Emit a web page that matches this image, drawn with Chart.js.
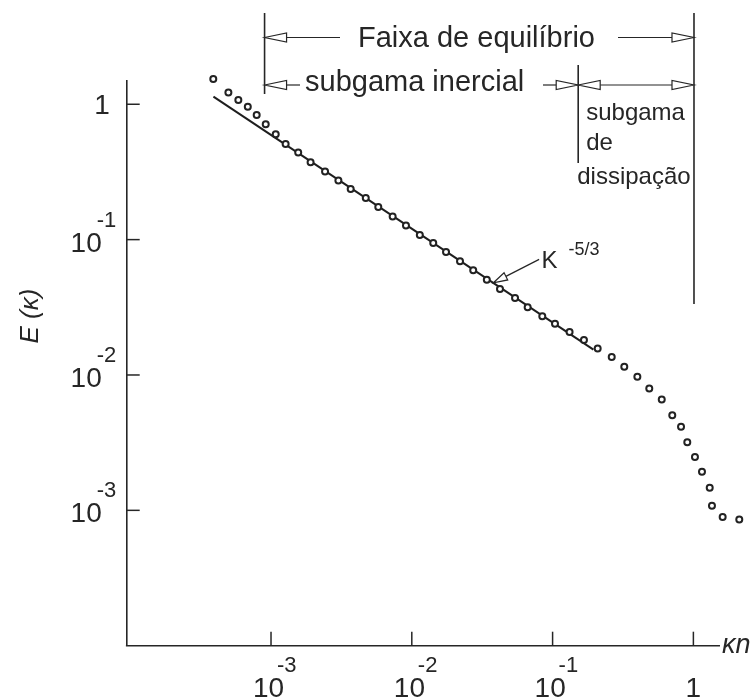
<!DOCTYPE html>
<html>
<head>
<meta charset="utf-8">
<script src="https://cdn.jsdelivr.net/npm/chart.js@4.4.1/dist/chart.umd.min.js"></script>
<style>
  html, body { margin: 0; padding: 0; background: #fff; }
  #wrap { width: 753px; height: 700px; position: relative; }
</style>
</head>
<body>
<div id="wrap"><canvas id="espectro"></canvas></div>
<script>
// valores (número de onda adimensional κn e energia E(κ))
const kn = [3.89e-4, 4.98e-4, 5.86e-4, 6.84e-4, 7.91e-4, 9.17e-4, 1.08e-3, 1.27e-3, 1.56e-3, 1.91e-3,
            2.42e-3, 3.01e-3, 3.68e-3, 4.71e-3, 5.78e-3, 7.31e-3, 9.09e-3, 1.14e-2, 1.42e-2, 1.75e-2,
            2.20e-2, 2.73e-2, 3.41e-2, 4.23e-2, 5.41e-2, 6.65e-2, 8.45e-2, 0.104, 0.132, 0.167,
            0.209, 0.263, 0.323, 0.400, 0.486, 0.596, 0.708, 0.817, 0.905, 1.026,
            1.151, 1.306, 1.355, 1.614, 2.118];
const energy = [1.54, 1.22, 1.076, 0.960, 0.834, 0.712, 0.601, 0.509, 0.440, 0.373,
                0.318, 0.273, 0.237, 0.203, 0.174, 0.148, 0.127, 0.108, 0.0944, 0.0811,
                0.0691, 0.0593, 0.0506, 0.0432, 0.0371, 0.0316, 0.0271, 0.0239, 0.0208, 0.0181,
                0.0157, 0.0136, 0.0115, 0.0097, 0.00795, 0.00659, 0.00505, 0.00415, 0.00319, 0.00248,
                0.00193, 0.00147, 0.00108, 0.000893, 0.000855];

// reta κ^-5/3
const fitKn = [3.9e-4, 0.195];
const fitE = [1.14, 0.0154];

// marcas dos eixos
const xTicks = [1e-3, 1e-2, 1e-1, 1];
const xTickExp = ['-3', '-2', '-1', ''];
const yTicks = [1, 1e-1, 1e-2, 1e-3];
const yTickExp = ['', '-1', '-2', '-3'];
const xAxisEnd = 1.545;

// limites das faixas (inercial / dissipação)
const rangeBounds = [9e-4, 0.152, 1.01];
const slopeTip = { x: 0.038, y: 0.048 };

const ink = '#262626';
const FONT = '"Liberation Sans", Arial, Helvetica, sans-serif';

function seg(ctx, x1, y1, x2, y2) {
    ctx.beginPath();
    ctx.moveTo(x1, y1);
    ctx.lineTo(x2, y2);
    ctx.stroke();
}

// ponta de seta aberta (triângulo branco)
function head(ctx, tipX, tipY, ux, uy, len, half) {
    const bx = tipX - ux * len, by = tipY - uy * len;
    ctx.beginPath();
    ctx.moveTo(tipX, tipY);
    ctx.lineTo(bx - uy * half, by + ux * half);
    ctx.lineTo(bx + uy * half, by - ux * half);
    ctx.closePath();
    ctx.fillStyle = '#fff';
    ctx.fill();
    ctx.stroke();
    ctx.fillStyle = ink;
}

const anotacoes = {
    id: 'anotacoes',
    afterDraw(chart) {
        const { ctx, chartArea, scales } = chart;
        const x = scales.x, y = scales.y;
        ctx.save();
        ctx.strokeStyle = ink;
        ctx.fillStyle = ink;
        ctx.textBaseline = 'alphabetic';

        // eixo x (termina antes de κn)
        const xEnd = x.getPixelForValue(xAxisEnd);
        ctx.lineWidth = 1.6;
        seg(ctx, chartArea.left - 0.8, chartArea.bottom, xEnd, chartArea.bottom);

        // marcas para dentro + rótulos do eixo x
        ctx.lineWidth = 1.5;
        xTicks.forEach((v, i) => {
            const px = x.getPixelForValue(v);
            seg(ctx, px, chartArea.bottom, px, chartArea.bottom - 14);
            ctx.font = '28px ' + FONT;
            if (xTickExp[i] === '') {
                ctx.textAlign = 'center';
                ctx.fillText('1', px, chartArea.bottom + 51);
            } else {
                ctx.textAlign = 'left';
                ctx.fillText('10', px - 18, chartArea.bottom + 51);
                ctx.font = '22px ' + FONT;
                ctx.fillText(xTickExp[i], px + 6, chartArea.bottom + 26);
            }
        });

        // marcas + rótulos do eixo y
        yTicks.forEach((v, i) => {
            const py = y.getPixelForValue(v);
            seg(ctx, chartArea.left, py, chartArea.left + 13, py);
            ctx.font = '28px ' + FONT;
            if (yTickExp[i] === '') {
                ctx.textAlign = 'right';
                ctx.fillText('1', chartArea.left - 17, py + 10);
            } else {
                ctx.textAlign = 'right';
                ctx.fillText('10', chartArea.left - 25, py + 12);
                ctx.textAlign = 'left';
                ctx.font = '22px ' + FONT;
                ctx.fillText(yTickExp[i], chartArea.left - 30, py - 13);
            }
        });

        // títulos dos eixos
        ctx.save();
        ctx.translate(31, 316);
        ctx.rotate(-Math.PI / 2);
        ctx.textAlign = 'center';
        ctx.textBaseline = 'middle';
        ctx.font = 'italic 26px ' + FONT;
        ctx.fillText('E (κ)', 0, 0);
        ctx.restore();

        ctx.textAlign = 'left';
        ctx.font = 'italic 27px ' + FONT;
        ctx.fillText('κn', xEnd + 2, chartArea.bottom + 7);

        // faixas no topo
        const b0 = x.getPixelForValue(rangeBounds[0]);
        const b1 = x.getPixelForValue(rangeBounds[1]);
        const b2 = x.getPixelForValue(rangeBounds[2]);
        ctx.lineWidth = 1.6;
        seg(ctx, b0, 13, b0, 94);
        seg(ctx, b1, 65, b1, 163);
        seg(ctx, b2, 13, b2, 304);

        ctx.lineWidth = 1.2;
        const r1 = 37.5, r2 = 85;
        seg(ctx, b0 + 22, r1, 340, r1);
        head(ctx, b0, r1, -1, 0, 22, 4.5);
        seg(ctx, 618, r1, b2 - 22, r1);
        head(ctx, b2, r1, 1, 0, 22, 4.5);

        seg(ctx, b0 + 22, r2, 300, r2);
        head(ctx, b0, r2, -1, 0, 22, 4.5);
        seg(ctx, 543, r2, b1 - 22, r2);
        head(ctx, b1, r2, 1, 0, 22, 4.5);
        seg(ctx, b1 + 22, r2, b2 - 22, r2);
        head(ctx, b1, r2, -1, 0, 22, 4.5);
        head(ctx, b2, r2, 1, 0, 22, 4.5);

        ctx.font = '29px ' + FONT;
        ctx.fillText('Faixa de equilíbrio', 358, 47);
        ctx.fillText('subgama inercial', 305, 91);
        ctx.font = '24px ' + FONT;
        ctx.fillText('subgama', b1 + 8, 120);
        ctx.fillText('de', b1 + 8, 150);
        ctx.fillText('dissipação', b1 - 1, 184);

        // indicação da inclinação κ^-5/3
        const tx = x.getPixelForValue(slopeTip.x);
        const ty = y.getPixelForValue(slopeTip.y);
        const dx = 45.7, dy = -23.4, d = Math.hypot(dx, dy);
        ctx.lineWidth = 1.2;
        seg(ctx, tx + dx, ty + dy, tx + dx / d * 14, ty + dy / d * 14);
        head(ctx, tx, ty, -dx / d, -dy / d, 14, 4);
        ctx.font = '24px ' + FONT;
        ctx.fillText('Κ', tx + 48, ty - 15);
        ctx.font = '18px ' + FONT;
        ctx.fillText('-5/3', tx + 75, ty - 28);

        ctx.restore();
    }
};

new Chart(document.getElementById('espectro'), {
    type: 'scatter',
    data: {
        datasets: [
            {
                label: 'E(κ)',
                data: kn.map((v, i) => ({ x: v, y: energy[i] })),
                pointRadius: 3,
                pointBorderWidth: 2,
                pointBackgroundColor: '#fff',
                pointBorderColor: '#222',
                showLine: false,
                clip: false
            },
            {
                label: 'κ^-5/3',
                data: fitKn.map((v, i) => ({ x: v, y: fitE[i] })),
                showLine: true,
                pointRadius: 0,
                borderColor: '#1e1e1e',
                borderWidth: 2,
                clip: false
            }
        ]
    },
    options: {
        responsive: true,
        maintainAspectRatio: false,
        animation: false,
        layout: { padding: { left: 0, top: 80.7, right: 8, bottom: 0 } },
        plugins: { legend: { display: false }, tooltip: { enabled: false } },
        scales: {
            x: {
                type: 'logarithmic',
                bounds: 'data',
                min: 9.44e-5,
                max: 2.326,
                grid: { display: false },
                border: { display: false },
                ticks: { display: false },
                afterBuildTicks: s => { s.ticks = xTicks.map(v => ({ value: v })); },
                afterFit: s => { s.height = 54.3; }
            },
            y: {
                type: 'logarithmic',
                bounds: 'data',
                min: 1e-4,
                max: 1.493,
                grid: { display: false },
                border: { display: true, color: ink, width: 1.6 },
                ticks: { display: false },
                afterBuildTicks: s => { s.ticks = yTicks.map(v => ({ value: v })); },
                afterFit: s => { s.width = 126.7; }
            }
        }
    },
    plugins: [anotacoes]
});
</script>
</body>
</html>
